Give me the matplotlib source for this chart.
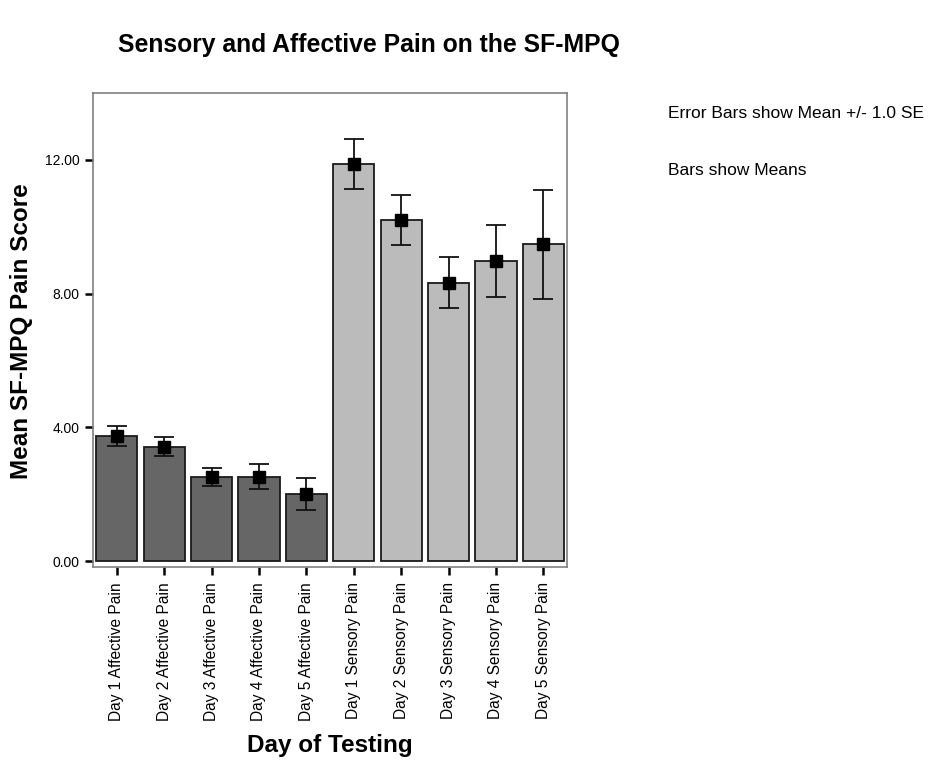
import numpy as np
import matplotlib.pyplot as plt

plt.rcParams['font.family'] = ['Liberation Sans', 'DejaVu Sans']

labels = ['Day 1 Affective Pain', 'Day 2 Affective Pain', 'Day 3 Affective Pain',
          'Day 4 Affective Pain', 'Day 5 Affective Pain',
          'Day 1 Sensory Pain', 'Day 2 Sensory Pain', 'Day 3 Sensory Pain',
          'Day 4 Sensory Pain', 'Day 5 Sensory Pain']
means = [3.75, 3.42, 2.52, 2.52, 2.00, 11.88, 10.20, 8.33, 8.97, 9.47]
se = [0.30, 0.29, 0.27, 0.37, 0.47, 0.75, 0.74, 0.77, 1.07, 1.63]
yticks = [0, 4, 8, 12]

colors = ['#666666'] * 5 + ['#bbbbbb'] * 5

fig = plt.figure(figsize=(9.35, 7.6), dpi=100)
ax = fig.add_axes([0.0995, 0.2539, 0.507, 0.6237])

x = np.arange(len(labels))
ax.bar(x, means, width=0.87, color=colors, edgecolor='#1a1a1a', linewidth=1.3, zorder=2)
ax.errorbar(x, means, yerr=se, fmt='s', color='black', markersize=8,
            ecolor='#111111', elinewidth=1.3, capsize=7.5, capthick=1.3, zorder=3)

ax.set_xlim(-0.5, 9.5)
ax.set_ylim(-0.18, 14.0)
ax.set_yticks(yticks)
ax.set_yticklabels(['%.2f' % t for t in yticks], fontsize=10)
ax.set_xticks(x)
ax.set_xticklabels(labels, rotation=90, fontsize=11.2)
ax.tick_params(axis='both', direction='out', length=6, width=1.8, color='black')
ax.tick_params(axis='x', pad=5)

for s in ax.spines.values():
    s.set_color('#808080')
    s.set_linewidth(1.2)

fig.text(0.126, 0.941, 'Sensory and Affective Pain on the SF-MPQ',
         fontsize=17.8, fontweight='bold', ha='left', va='center')
fig.text(0.0235, 0.564, 'Mean SF-MPQ Pain Score', fontsize=17.5, fontweight='bold',
         rotation=90, ha='center', va='center')
fig.text(0.353, 0.0197, 'Day of Testing', fontsize=17.5, fontweight='bold',
         ha='center', va='center')
fig.text(0.714, 0.851, 'Error Bars show Mean +/- 1.0 SE', fontsize=12.5,
         ha='left', va='center')
fig.text(0.714, 0.776, 'Bars show Means', fontsize=12.5, ha='left', va='center')

fig.savefig('out.png', dpi=100)
